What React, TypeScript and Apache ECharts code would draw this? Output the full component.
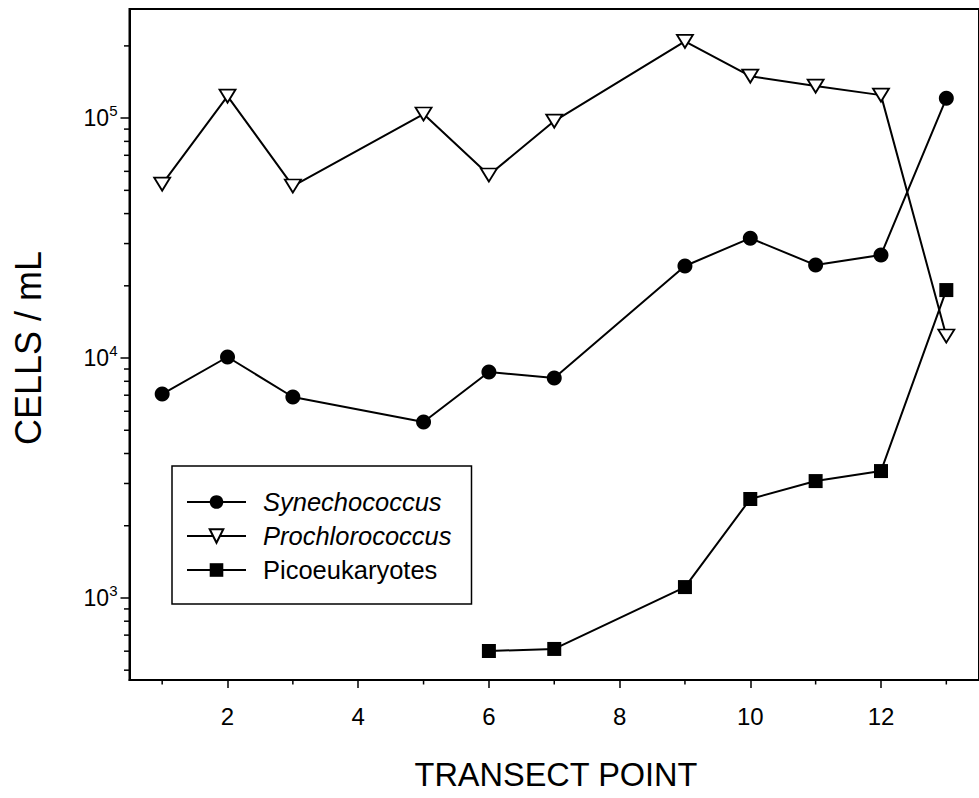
import React, { useEffect, useRef } from "react";
import * as echarts from "echarts";

// ---- data ----
const synX = [1, 2, 3, 5, 6, 7, 9, 10, 11, 12, 13];
const synechococcus = [7080, 10100, 6880, 5410, 8740, 8250, 24200, 31600, 24400, 26900, 121000];
const proX = [1, 2, 3, 5, 6, 7, 9, 10, 11, 12, 13];
const prochlorococcus = [53100, 123500, 52100, 104000, 57900, 97200, 209000, 149600, 136000, 124700, 12350];
const picoX = [6, 7, 9, 10, 11, 12, 13];
const picoeukaryotes = [601, 613, 1110, 2585, 3070, 3380, 19200];

const seriesNames = ["Synechococcus", "Prochlorococcus", "Picoeukaryotes"];
const xMajorTicks = [2, 4, 6, 8, 10, 12];
const xMinorTicks = [1, 3, 5, 7, 9, 11, 13];
const yDecades = [3, 4, 5];
const yMinorValues = [500, 600, 700, 800, 900, 2000, 3000, 4000, 5000, 6000, 7000, 8000, 9000,
  20000, 30000, 40000, 50000, 60000, 70000, 80000, 90000, 200000];
const yRange = [455, 285000];
const xRange = [0.5, 13.5];

const FONT = "'Liberation Sans', Arial, Helvetica, sans-serif";

const pairs = (xs: number[], ys: number[]) => xs.map((x, i) => [x, Math.log10(ys[i])]);

export default function App() {
  const ref = useRef<HTMLDivElement>(null);
  useEffect(() => {
    if (!ref.current) return;
    const chart = echarts.init(ref.current, null, { renderer: "svg" });
    const yMin = Math.log10(yRange[0]);
    const yMax = Math.log10(yRange[1]);
    const lineStyle = { color: "#000", width: 2 };
    const tickStyle = { stroke: "#000", lineWidth: 1.5 };
    chart.setOption({
      animation: false,
      backgroundColor: "#fff",
      textStyle: { fontFamily: FONT },
      grid: {
        left: 129.5,
        top: 9,
        width: 855,
        height: 671,
        show: true,
        borderColor: "#000",
        borderWidth: 2,
        backgroundColor: "transparent",
      },
      xAxis: {
        type: "value",
        position: "bottom",
        min: xRange[0],
        max: xRange[1],
        axisLine: { show: true, onZero: false, lineStyle: { color: "#000", width: 2 } },
        axisTick: { show: true, customValues: xMajorTicks, length: 8, lineStyle: { color: "#000", width: 1.5 } },
        axisLabel: {
          customValues: xMajorTicks,
          color: "#000",
          fontSize: 24,
          margin: 24,
          formatter: (v: number) => "{a|" + Math.round(v) + "}",
          rich: { a: { fontSize: 24, lineHeight: 24, color: "#000" } },
        },
        splitLine: { show: false },
      },
      yAxis: {
        type: "value",
        position: "left",
        min: yMin,
        max: yMax,
        axisLine: { show: true, onZero: false, lineStyle: { color: "#000", width: 2 } },
        axisTick: { show: true, customValues: yDecades, length: 9, lineStyle: { color: "#000", width: 1.5 } },
        axisLabel: {
          customValues: yDecades,
          margin: 12,
          color: "#000",
          fontSize: 23,
          formatter: (v: number) => "{b|10}{s|" + Math.round(v) + "}",
          rich: {
            b: { fontSize: 23, lineHeight: 30, color: "#000" },
            s: { fontSize: 15, lineHeight: 15, verticalAlign: "top", color: "#000" },
          },
        },
        splitLine: { show: false },
      },
      legend: {
        show: true,
        orient: "vertical",
        left: 172,
        top: 466,
        itemWidth: 59,
        itemHeight: 17,
        itemGap: 8,
        padding: [23, 20, 21, 14],
        borderColor: "#000",
        borderWidth: 1.5,
        backgroundColor: "#fff",
        selectedMode: false,
        textStyle: { fontSize: 25.5, color: "#000", fontFamily: FONT, padding: [0, 0, 0, 12] },
        data: [
          { name: seriesNames[0], textStyle: { fontStyle: "italic" } },
          { name: seriesNames[1], textStyle: { fontStyle: "italic" } },
          { name: seriesNames[2], textStyle: { fontStyle: "normal" } },
        ],
      },
      series: [
        {
          name: seriesNames[0],
          type: "line",
          data: pairs(synX, synechococcus),
          symbol: "circle",
          symbolSize: 15,
          showAllSymbol: true,
          lineStyle,
          itemStyle: { color: "#000", borderColor: "#000", borderWidth: 0 },
          emphasis: { disabled: true },
        },
        {
          name: seriesNames[1],
          type: "line",
          data: pairs(proX, prochlorococcus),
          symbol: "triangle",
          symbolRotate: 180,
          symbolSize: [16, 13],
          showAllSymbol: true,
          lineStyle,
          itemStyle: { color: "#fff", borderColor: "#000", borderWidth: 1.8 },
          emphasis: { disabled: true },
        },
        {
          name: seriesNames[2],
          type: "line",
          data: pairs(picoX, picoeukaryotes),
          symbol: "rect",
          symbolSize: 14,
          showAllSymbol: true,
          lineStyle,
          itemStyle: { color: "#000", borderColor: "#000", borderWidth: 0 },
          emphasis: { disabled: true },
        },
        {
          // minor ticks on the x axis
          type: "custom",
          silent: true,
          clip: false,
          data: xMinorTicks.map((v) => [v, yMin]),
          encode: { x: 0, y: 1 },
          renderItem: (_p: any, api: any) => {
            const pt = api.coord([api.value(0), api.value(1)]);
            return { type: "line", shape: { x1: pt[0], y1: pt[1], x2: pt[0], y2: pt[1] + 4.5 }, style: tickStyle };
          },
        },
        {
          // minor ticks on the (log) y axis
          type: "custom",
          silent: true,
          clip: false,
          data: yMinorValues.map((v) => [xRange[0], Math.log10(v)]),
          encode: { x: 0, y: 1 },
          renderItem: (_p: any, api: any) => {
            const pt = api.coord([api.value(0), api.value(1)]);
            return { type: "line", shape: { x1: pt[0] - 5.5, y1: pt[1], x2: pt[0], y2: pt[1] }, style: tickStyle };
          },
        },
      ],
      graphic: [
        {
          type: "text",
          x: 556,
          y: 775,
          style: { text: "TRANSECT POINT", fontSize: 32.5, fontFamily: FONT, fill: "#000", align: "center", verticalAlign: "middle" },
        },
        {
          type: "text",
          x: 28,
          y: 348,
          rotation: Math.PI / 2,
          style: { text: "CELLS / mL", fontSize: 36, fontFamily: FONT, fill: "#000", align: "center", verticalAlign: "middle" },
        },
      ],
    });
    return () => chart.dispose();
  }, []);
  return (
    <div ref={ref} style={{ position: "fixed", left: 0, top: 0, width: 979, height: 798, background: "#fff" }} />
  );
}
